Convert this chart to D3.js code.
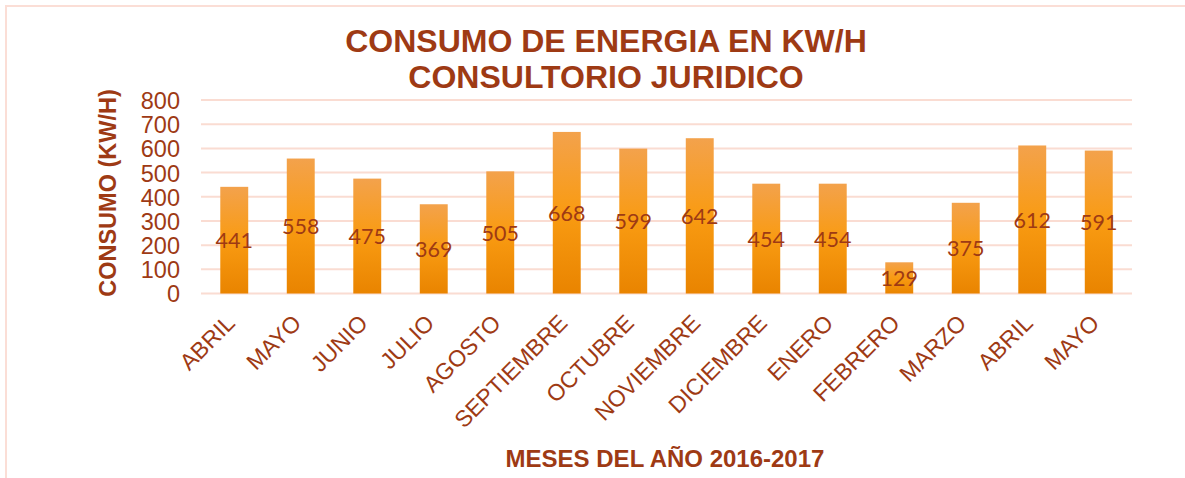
<!DOCTYPE html>
<html><head><meta charset="utf-8">
<script src="https://cdn.jsdelivr.net/npm/d3@7"></script>
<style>body{margin:0;background:#fff}svg{display:block}</style>
</head><body>
<svg id="c" width="1185" height="478"></svg>
<script>
const months = ["ABRIL","MAYO","JUNIO","JULIO","AGOSTO","SEPTIEMBRE","OCTUBRE","NOVIEMBRE","DICIEMBRE","ENERO","FEBRERO","MARZO","ABRIL","MAYO"];
const consumo = [441,558,475,369,505,668,599,642,454,454,129,375,612,591];
const yTicks = [0,100,200,300,400,500,600,700,800];

const svg = d3.select("#c");
const brown = "#9E3A14";
const m = {left:201, right:1132, top:100, bottom:293.5};

// outer border (top and left visible)
svg.append("path").attr("d","M6,478 V6 H1185").attr("fill","none").attr("stroke","#FBDED6").attr("stroke-width",2);

const x = d3.scaleBand().domain(d3.range(months.length)).range([m.left,m.right]).paddingInner(0.58).paddingOuter(0.29);
const y = d3.scaleLinear().domain([0,800]).range([m.bottom,m.top]);

const defs = svg.append("defs");
const g = defs.append("linearGradient").attr("id","bg").attr("x1",0).attr("y1",0).attr("x2",0).attr("y2",1);
g.append("stop").attr("offset","0%").attr("stop-color","#F3A24C");
g.append("stop").attr("offset","50%").attr("stop-color","#F99B12");
g.append("stop").attr("offset","100%").attr("stop-color","#E98400");

// gridlines
svg.append("g").selectAll("line").data(yTicks).join("line")
  .attr("x1",m.left).attr("x2",m.right).attr("y1",d=>y(d)).attr("y2",d=>y(d))
  .attr("stroke","#FADCD2").attr("stroke-width",2);

// y axis labels
const yAxis = d3.axisLeft(y).tickValues(yTicks).tickSize(0).tickPadding(0);
const ya = svg.append("g").attr("transform","translate(180,0)").call(yAxis);
ya.select(".domain").remove();
ya.selectAll("text").attr("font-family","Liberation Sans, Arial, sans-serif").attr("font-size",23.5).attr("fill",brown).attr("dy","0.36em");

// bars
svg.append("g").selectAll("rect").data(consumo).join("rect")
  .attr("x",(d,i)=>x(i)).attr("width",x.bandwidth())
  .attr("y",d=>y(d)).attr("height",d=>y(0)-y(d))
  .attr("fill","url(#bg)");

// value labels
svg.append("g").selectAll("text").data(consumo).join("text")
  .attr("x",(d,i)=>x(i)+x.bandwidth()/2)
  .attr("y",d=>(y(d)+y(0))/2)
  .attr("dy","0.38em")
  .attr("text-anchor","middle")
  .attr("font-family","Lato, Carlito, Calibri, sans-serif")
  .attr("font-size",21.5).attr("fill",brown)
  .text(d=>d);

// x labels
const xAxis = d3.axisBottom(x).tickFormat(i=>months[i]).tickSize(0).tickPadding(0);
const xa = svg.append("g").attr("transform",`translate(0,${m.bottom})`).call(xAxis);
xa.select(".domain").remove();
xa.selectAll("text")
  .attr("font-family","Liberation Sans, Arial, sans-serif").attr("font-size",23).attr("fill",brown)
  .attr("text-anchor","end").attr("dy",null).attr("y",0)
  .attr("transform","translate(2,31) rotate(-45)");

// titles
const tf = "Liberation Sans, Arial, sans-serif";
svg.append("text").attr("x",606).attr("y",52).attr("text-anchor","middle").attr("font-family",tf).attr("font-weight","bold").attr("font-size",32).attr("fill",brown).text("CONSUMO DE ENERGIA EN KW/H");
svg.append("text").attr("x",606).attr("y",88).attr("text-anchor","middle").attr("font-family",tf).attr("font-weight","bold").attr("font-size",32).attr("fill",brown).text("CONSULTORIO JURIDICO");
svg.append("text").attr("transform","translate(116,193) rotate(-90)").attr("text-anchor","middle").attr("font-family",tf).attr("font-weight","bold").attr("font-size",23.5).attr("fill",brown).text("CONSUMO (KW/H)");
svg.append("text").attr("x",665).attr("y",467).attr("text-anchor","middle").attr("font-family",tf).attr("font-weight","bold").attr("font-size",24).attr("fill",brown).text("MESES DEL AÑO 2016-2017");
</script>
</body></html>
